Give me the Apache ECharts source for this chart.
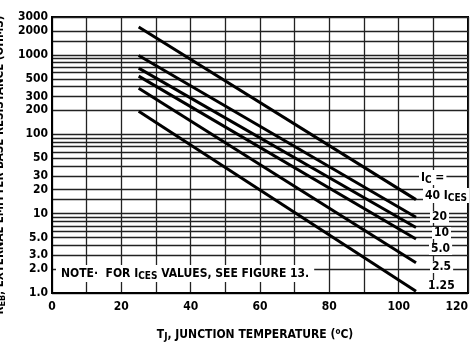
<!DOCTYPE html>
<html>
<head>
<meta charset="utf-8">
<script src="https://cdn.jsdelivr.net/npm/echarts@6/dist/echarts.min.js"></script>
<style>
html,body{margin:0;padding:0;background:#fff;}
#chart{width:473px;height:345px;}
</style>
</head>
<body>
<div id="chart"></div>
<script>
// ---- data ----
const tempStart = 25;
const tempEnd = 105;
const icLabels = ['40', '20', '10', '5.0', '2.5', '1.25'];
const resAtStart = [2250, 980, 680, 540, 380, 195];
const resAtEnd = [15, 9, 6.7, 4.8, 2.4, 1.05];
const xTickLabels = [0, 20, 40, 60, 80, 100, 120];
const yTickLabels = [1, 2, 3, 5, 10, 20, 30, 50, 100, 200, 300, 500, 1000, 2000, 3000];
const yGridValues = [1,2,3,4,5,6,7,8,9,10,15,20,30,40,50,60,70,80,90,100,200,300,400,500,600,700,800,900,1000,1500,2000,3000];

const FONT = "'DejaVu Sans Condensed','Liberation Sans Narrow',sans-serif";
const FS = 12;

const series = icLabels.map((lab, i) => ({
  type: 'line',
  name: lab,
  data: [[tempStart, resAtStart[i]], [tempEnd, resAtEnd[i]]],
  symbol: 'none',
  silent: true,
  lineStyle: { color: '#000', width: 3 },
  z: 5
}));

const subRich = { sub: { font: 'bold 10px ' + FONT, fill: '#000', padding: [5, 0, 0, 0] } };
const labelPos = [[423, 188], [430, 211], [432, 227], [429, 243], [430, 261], [426, 280]];
const graphics = [];
icLabels.forEach((lab, i) => {
  graphics.push({
    type: 'text', left: labelPos[i][0], top: labelPos[i][1], z: 20,
    style: {
      text: i === 0 ? lab + ' I{sub|CES}' : lab,
      font: 'bold ' + FS + 'px ' + FONT, fill: '#000',
      backgroundColor: '#fff', padding: [0, 2],
      rich: subRich
    }
  });
});
graphics.push({
  type: 'text', left: 419, top: 170, z: 20,
  style: {
    text: 'I{sub|C} =', font: 'bold ' + FS + 'px ' + FONT, fill: '#000',
    backgroundColor: '#fff', padding: [0, 2],
    rich: subRich
  }
});
graphics.push({
  type: 'text', left: 56, top: 265, z: 20,
  style: {
    text: 'NOTE·  FOR I{sub|CES} VALUES, SEE FIGURE 13.',
    font: 'bold ' + FS + 'px ' + FONT, fill: '#000',
    backgroundColor: '#fff', padding: [1, 5, 1, 5],
    rich: subRich
  }
});

const chart = echarts.init(document.getElementById('chart'), null, { renderer: 'canvas' });
chart.setOption({
  animation: false,
  backgroundColor: '#fff',
  grid: {
    left: 52, right: 5, top: 17, bottom: 52,
    containLabel: false, outerBoundsMode: 'none',
    show: true, borderColor: '#000', borderWidth: 2, backgroundColor: 'transparent'
  },
  xAxis: {
    type: 'value', min: 0, max: 120, interval: 10,
    axisLine: { show: true, lineStyle: { color: '#000', width: 2 } },
    axisTick: { show: false },
    splitLine: { show: true, lineStyle: { color: '#222', width: 1.3 } },
    axisLabel: {
      color: '#000', fontFamily: FONT, fontWeight: 'bold', fontSize: FS, margin: 8,
      alignMaxLabel: 'right',
      formatter: v => (xTickLabels.indexOf(v) >= 0 ? String(v) : '')
    },
    name: 'T{sub|J}, JUNCTION TEMPERATURE ({sup|o}C)',
    nameLocation: 'middle', nameGap: 34,
    nameTextStyle: {
      color: '#000', fontFamily: FONT, fontWeight: 'bold', fontSize: FS,
      padding: [0, 10, 0, 0],
      rich: {
        sub: { fontFamily: FONT, fontWeight: 'bold', fontSize: 10, padding: [5, 0, 0, 0] },
        sup: { fontFamily: FONT, fontWeight: 'bold', fontSize: 8, padding: [0, 0, 5, 0] }
      }
    }
  },
  yAxis: {
    type: 'log', logBase: 10, min: 1, max: 3000,
    axisLine: { show: true, lineStyle: { color: '#000', width: 2 } },
    axisTick: { show: false, customValues: yGridValues },
    splitLine: { show: true, lineStyle: { color: '#222', width: 1.3 } },
    minorSplitLine: { show: false },
    axisLabel: {
      customValues: yTickLabels,
      color: '#000', fontFamily: FONT, fontWeight: 'bold', fontSize: FS, margin: 4,
      formatter: v => (v < 10 ? Number(v).toFixed(1) : String(Math.round(v)))
    },
    name: 'R{sub|EB}, EXTERNAL EMITTER BASE RESISTANCE (OHMS)',
    nameLocation: 'middle', nameGap: 34, nameRotate: 90,
    nameTextStyle: {
      color: '#000', fontFamily: FONT, fontWeight: 'bold', fontSize: 11.5,
      padding: [0, 20, 0, 0],
      rich: {
        sub: { fontFamily: FONT, fontWeight: 'bold', fontSize: 9, padding: [5, 0, 0, 0] }
      }
    }
  },
  series: series,
  graphic: graphics
});
</script>
</body>
</html>
